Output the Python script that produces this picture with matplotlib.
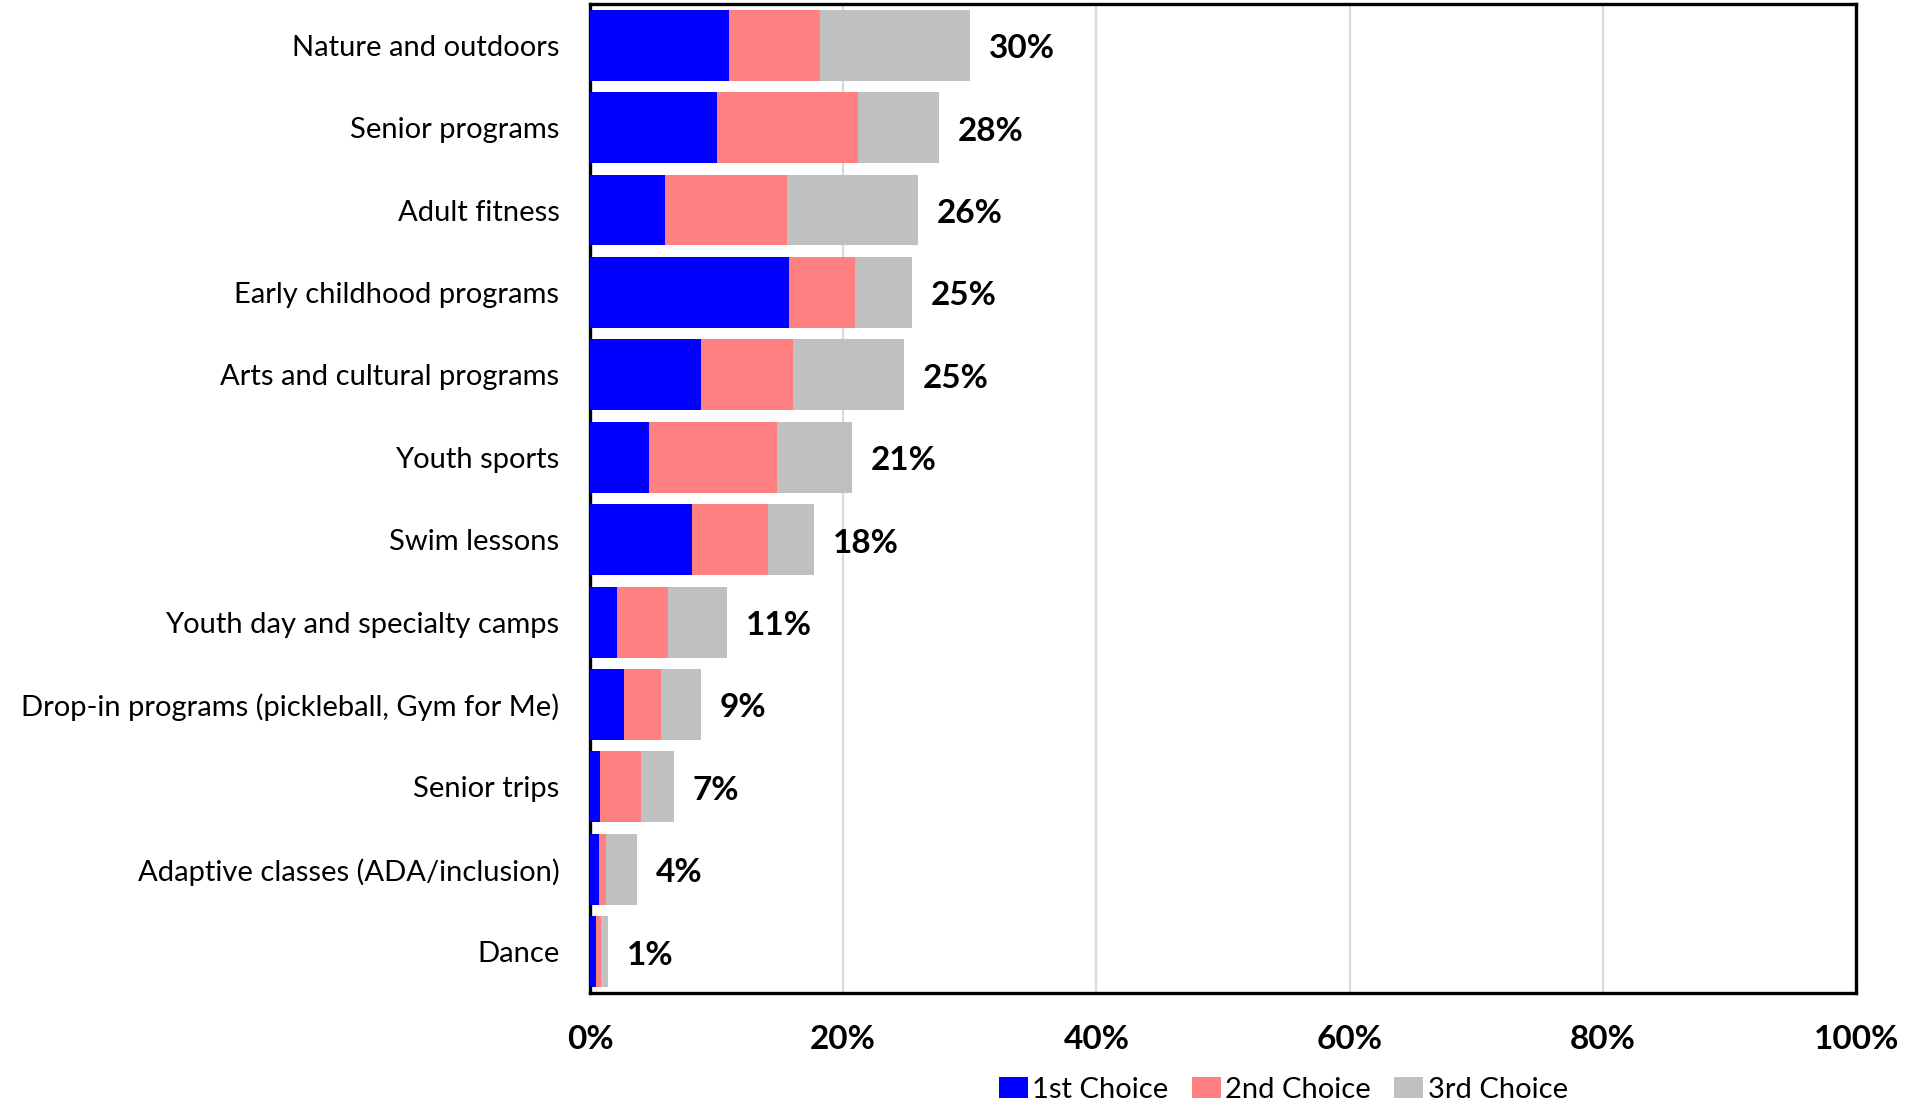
import matplotlib

matplotlib.use("Agg")

import matplotlib.pyplot as plt
from matplotlib.patches import Patch
from matplotlib.ticker import FuncFormatter, MultipleLocator

plt.rcParams["font.family"] = ["Lato", "DejaVu Sans"]

categories = [
    "Nature and outdoors",
    "Senior programs",
    "Adult fitness",
    "Early childhood programs",
    "Arts and cultural programs",
    "Youth sports",
    "Swim lessons",
    "Youth day and specialty camps",
    "Drop-in programs (pickleball, Gym for Me)",
    "Senior trips",
    "Adaptive classes (ADA/inclusion)",
    "Dance",
]

# percent of respondents naming each program as 1st / 2nd / 3rd choice
first_choice = [11.0, 10.0, 5.9, 15.7, 8.8, 4.7, 8.1, 2.1, 2.7, 0.8, 0.7, 0.5]
second_choice = [7.2, 11.2, 9.7, 5.2, 7.2, 10.1, 6.0, 4.1, 2.9, 3.2, 0.6, 0.4]
third_choice = [11.8, 6.4, 10.3, 4.5, 8.8, 5.9, 3.6, 4.6, 3.2, 2.6, 2.4, 0.5]

series_names = ["1st Choice", "2nd Choice", "3rd Choice"]
series_colors = ["#0000FF", "#FF8080", "#C0C0C0"]

fig = plt.figure(figsize=(19.21, 11.05), dpi=100)
ax = fig.add_axes([0.3071, 0.1014, 0.6591, 0.8950])

rows = list(range(len(categories)))
left = [0.0] * len(categories)
for values, color in zip([first_choice, second_choice, third_choice], series_colors):
    ax.barh(rows, values, left=left, height=0.86, color=color, linewidth=0, zorder=3)
    left = [a + b for a, b in zip(left, values)]

for row, total in zip(rows, left):
    ax.annotate(
        f"{total:.0f}%",
        xy=(total, row),
        xytext=(13.5, -2.5),
        textcoords="offset points",
        ha="left",
        va="center",
        fontsize=24,
        fontweight="bold",
        color="black",
    )

ax.set_xlim(0, 100)
ax.set_ylim(len(categories) - 0.5, -0.5)
ax.set_yticks(rows)
ax.set_yticklabels(categories, fontsize=21)
ax.xaxis.set_major_locator(MultipleLocator(20))
ax.xaxis.set_major_formatter(FuncFormatter(lambda v, _: f"{v:.0f}%"))
for label in ax.get_xticklabels():
    label.set_fontweight("bold")
    label.set_fontsize(24)
ax.tick_params(axis="x", length=0, pad=23)
ax.tick_params(axis="y", length=0, pad=22)
ax.grid(axis="x", color="#D9D9D9", linewidth=1.6, zorder=0)
ax.set_axisbelow(True)
for spine in ax.spines.values():
    spine.set_linewidth(2.4)
    spine.set_color("black")

handles = [Patch(facecolor=c, edgecolor="none") for c in series_colors]
fig.legend(
    handles,
    series_names,
    loc="center",
    bbox_to_anchor=(0.668, 0.0136),
    ncol=3,
    frameon=False,
    fontsize=21,
    handlelength=1.0,
    handleheight=0.75,
    handletextpad=0.15,
    columnspacing=0.8,
    borderaxespad=0,
)

fig.savefig("out.png", dpi=100)
